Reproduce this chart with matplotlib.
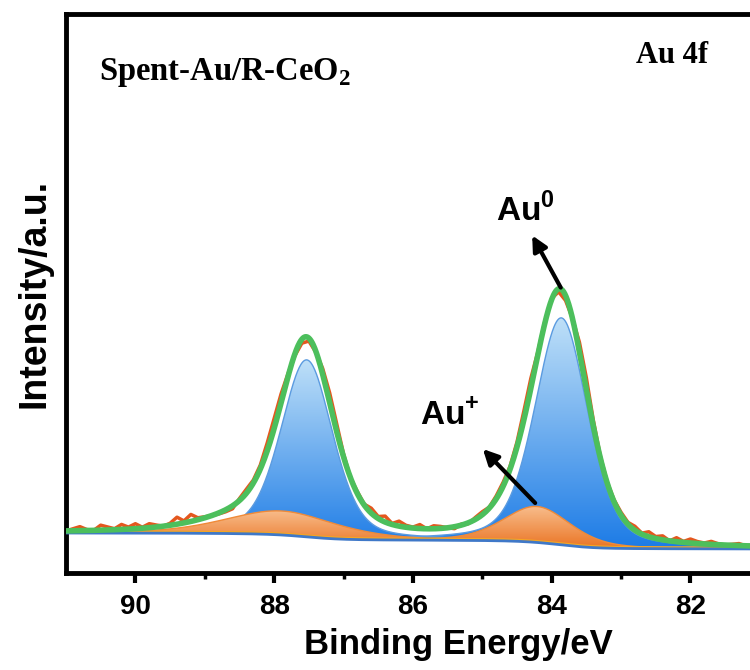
import numpy as np
import matplotlib.pyplot as plt
from matplotlib.colors import LinearSegmentedColormap

plt.rcParams['mathtext.fontset'] = 'custom'
plt.rcParams['mathtext.bf'] = 'Liberation Sans:bold'
plt.rcParams['mathtext.sf'] = 'Liberation Serif:bold'

# fitted components (BE in eV, height in a.u., FWHM in eV)
au0_center = [87.53, 83.86]
au0_height = [177, 227]
au0_fwhm = [0.88, 0.90]
aup_center = [87.89, 84.21]
aup_height = [24, 36]
aup_fwhm = [1.90, 1.15]
gl_mix = 0.35          # Lorentzian fraction of the pseudo-Voigt
bg_high = 40           # Shirley background, high-BE end
bg_low = 24            # Shirley background, low-BE end

# measured counts minus fit envelope, 91.0 -> 81.1 eV in 0.1 eV steps
raw_residual = [
    0, 2, 4, 1, 0, 5, 3, 1, 5, 2,        # 91.0 - 90.1
    5, 1, 4, 2, 0, 2, 7, 2, 7, 2,        # 90.0 - 89.1
    1, 0, -1, -2, -3, 2, 4, 3, 4, 8,     # 89.0 - 88.1
    10, 9, 3, -2, -4, -3, -1, 6, 10, 8,  # 88.0 - 87.1
    3, 0, 2, 1, 5, 2, 6, 1, 5, 2,        # 87.0 - 86.1
    1, 4, 0, 3, 2, 0, -2, 1, -1, 2,      # 86.0 - 85.1
    3, 1, 3, 4, 3, 5, 9, 10, 3, 2,       # 85.0 - 84.1
    1, -3, -5, 0, 10, 12, 6, 2, 1, 2,    # 84.0 - 83.1
    3, 2, 4, 1, 5, 2, 4, 0, 4, 1,        # 83.0 - 82.1
    4, 2, 1, 3, 1, 0, 1, 2, 0, 1,        # 82.0 - 81.1
]

# the axis runs past the right edge of the picture (cropped original)
x_left, x_right = 91.0, 79.7


def pseudo_voigt(e, c, h, w):
    d = (e - c) / w
    return h * ((1 - gl_mix) * np.exp(-4 * np.log(2) * d ** 2) + gl_mix / (1 + 4 * d ** 2))


e_fine = np.linspace(x_left, x_right, 1400)
blue = [pseudo_voigt(e_fine, c, h, w) for c, h, w in zip(au0_center, au0_height, au0_fwhm)]
orange = [pseudo_voigt(e_fine, c, h, w) for c, h, w in zip(aup_center, aup_height, aup_fwhm)]
peaks = sum(blue) + sum(orange)

# Shirley type background
asc = peaks[::-1]
cum = np.concatenate([[0], np.cumsum((asc[1:] + asc[:-1]) / 2)])
bg = (bg_low + (bg_high - bg_low) * cum / cum[-1])[::-1]
envelope = bg + peaks

e_raw = np.linspace(91.0, 81.1, 100)
raw = np.interp(e_raw, e_fine[::-1], envelope[::-1]) + np.array(raw_residual)

fig = plt.figure(figsize=(7.5, 6.7), dpi=100)
ax = fig.add_axes([66 / 750, 97 / 670, 784 / 750, 559 / 670])


def gradient_fill(x, y_bot, y_top, c_bot, c_top, z):
    poly = ax.fill_between(x, y_bot, y_top, color='none', lw=0)
    cmap = LinearSegmentedColormap.from_list('g', [c_bot, c_top])
    grad = np.linspace(0, 1, 256).reshape(-1, 1)
    im = ax.imshow(grad, cmap=cmap, aspect='auto', origin='lower', interpolation='bilinear',
                   extent=[x.max(), x.min(), y_bot.min(), y_top.max()], zorder=z)
    im.set_clip_path(poly.get_paths()[0], transform=ax.transData)


for comp in blue:
    gradient_fill(e_fine, bg, bg + comp, '#1c7be6', '#bfe0f8', 2)
    ax.plot(e_fine, bg + comp, color='#5b9be0', lw=1, zorder=3)
for comp in orange:
    gradient_fill(e_fine, bg, bg + comp, '#ea7322', '#f8bd8c', 4)
    ax.plot(e_fine, bg + comp, color='#f08a38', lw=1, zorder=5)

ax.plot(e_fine, bg + 1.5, color='#f5a623', lw=1.5, zorder=5)
ax.plot(e_fine, bg, color='#3f78c8', lw=2, zorder=5)
ax.plot(e_raw, raw, color='#e4571e', lw=2.5, zorder=6)
ax.plot(e_fine, envelope, color='#4cbf5c', lw=4, zorder=7)

arrow = dict(arrowstyle='-|>,head_length=0.9,head_width=0.45', color='black', lw=3)
ax.annotate('', xy=(84.30, 340), xytext=(83.85, 283), arrowprops=arrow, zorder=8)
ax.annotate('', xy=(85.02, 126), xytext=(84.21, 68), arrowprops=arrow, zorder=8)
ax.text(84.80, 352, r'Au$^\mathbf{0}$', fontsize=24, fontweight='bold', family='Liberation Sans',
        va='baseline', ha='left')
ax.text(85.90, 148, r'Au$^\mathbf{+}$', fontsize=24, fontweight='bold', family='Liberation Sans',
        va='baseline', ha='left')

ax.text(90.53, 493, r'Spent-Au/R-CeO$_\mathsf{2}$', fontsize=23.5,
        fontweight='bold', family='Liberation Serif', va='baseline')
ax.text(82.79, 510, 'Au 4f', fontsize=22,
        fontweight='bold', family='Liberation Serif', va='baseline')

ax.set_xlim(x_left, x_right)
ax.set_ylim(0, 559)
ax.set_xticks([90, 88, 86, 84, 82])
ax.set_xticks([89, 87, 85, 83, 81], minor=True)
ax.set_yticks([])
ax.tick_params(axis='x', which='major', direction='out', length=7, width=3, pad=8)
ax.tick_params(axis='x', which='minor', direction='out', length=4, width=2.5)
for lab in ax.get_xticklabels():
    lab.set_fontsize(20)
    lab.set_fontweight('bold')
    lab.set_family('Liberation Sans')
ax.set_xlabel('Binding Energy/eV', fontsize=25, fontweight='bold', family='Liberation Sans', labelpad=6)
ax.set_ylabel('Intensity/a.u.', fontsize=27, fontweight='bold', family='Liberation Sans', labelpad=10)
for side in ax.spines:
    ax.spines[side].set_linewidth(3.5)

fig.savefig('out.png', dpi=100)
